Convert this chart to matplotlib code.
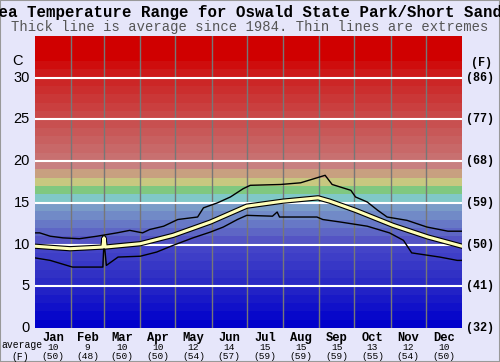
import numpy as np
import matplotlib
matplotlib.use('Agg')
import matplotlib.pyplot as plt
import matplotlib.patheffects as pe
from matplotlib.colors import to_rgb
from matplotlib.transforms import blended_transform_factory

# Data (day of year, deg C)
months = ['Jan', 'Feb', 'Mar', 'Apr', 'May', 'Jun', 'Jul', 'Aug', 'Sep', 'Oct', 'Nov', 'Dec']
month_edges = [0, 31, 59, 90, 120, 151, 181, 212, 243, 273, 304, 334, 365]
avg_c = [10, 9, 10, 10, 12, 14, 15, 15, 15, 13, 12, 10]
avg_f = [50, 48, 50, 50, 54, 57, 59, 59, 59, 55, 54, 50]

avg_days = [0, 30, 58, 59, 60, 90, 118, 150, 181, 212, 242, 252, 274, 306, 336, 365]
avg_temp = [9.8, 9.5, 9.7, 10.8, 9.7, 10.1, 11.1, 12.7, 14.6, 15.2, 15.6, 15.2, 14.1, 12.3, 10.9, 9.8]

max_days = [0, 4, 13, 24, 38, 53, 70, 81, 92, 98, 110, 122, 139, 144, 156, 167, 178, 184,
            210, 227, 241, 248, 254, 270, 274, 284, 293, 301, 318, 335, 353, 365]
max_temp = [11.4, 11.4, 11.0, 10.8, 10.7, 11.0, 11.4, 11.7, 11.4, 11.8, 12.2, 13.0, 13.3, 14.4,
            15.0, 15.7, 16.7, 17.1, 17.2, 17.4, 18.0, 18.3, 17.2, 16.5, 15.7, 15.1, 14.1, 13.3,
            12.9, 12.1, 11.6, 11.6]

min_days = [0, 13, 32, 58, 59, 61, 71, 90, 104, 118, 135, 150, 161, 173, 181, 203, 207, 209,
            241, 246, 261, 284, 303, 315, 322, 346, 361, 365]
min_temp = [8.4, 8.1, 7.3, 7.3, 10.4, 7.5, 8.5, 8.6, 9.1, 9.9, 10.8, 11.5, 12.1, 13.0, 13.5,
            13.4, 13.9, 13.3, 13.3, 13.0, 12.7, 12.2, 11.4, 10.5, 9.0, 8.5, 8.1, 8.1]

c_ticks = [0, 5, 10, 15, 20, 25, 30]
f_ticks = ['(32)', '(41)', '(50)', '(59)', '(68)', '(77)', '(86)']

# colour of each 1 degree band (anchor colours, interpolated)
anchors = {0: '#0000cc', 5: '#2a2ac4', 9: '#4444c8', 10: '#5454c4', 14: '#7a9cc8',
           15: '#80c8c8', 16: '#80c880', 17: '#c8c880', 18: '#c8a080', 19: '#c88080',
           20: '#c87070', 24: '#c85050', 29: '#cc2626', 32: '#d00000', 34: '#d00000'}

def band_color(t):
    keys = sorted(anchors)
    for a, b in zip(keys[:-1], keys[1:]):
        if a <= t <= b:
            ca, cb = np.array(to_rgb(anchors[a])), np.array(to_rgb(anchors[b]))
            f = (t - a) / (b - a) if b > a else 0
            return tuple(ca + (cb - ca) * f)
    return to_rgb(anchors[keys[-1]])

mono = 'Liberation Mono'
bg = '#e6e6fa'

fig = plt.figure(figsize=(5, 3.62), dpi=100, facecolor=bg)
ax = fig.add_axes([0.07, 0.094, 0.854, 0.8066])

for t in range(35):
    ax.axhspan(t, t + 1, color=band_color(t), lw=0, zorder=0)

for d in month_edges[1:-1]:
    ax.axvline(d, color='#777777', lw=1, zorder=1)
for t in c_ticks[1:]:
    ax.axhline(t, color='white', lw=1.5, zorder=1)

ax.plot(max_days, max_temp, color='black', lw=1.0, zorder=3)
ax.plot(min_days, min_temp, color='black', lw=1.0, zorder=3)
ax.plot(avg_days, avg_temp, color='#ffffb8', lw=2.2, zorder=4,
        path_effects=[pe.Stroke(linewidth=3.8, foreground='black'), pe.Normal()])

ax.set_xlim(0, 365)
ax.set_ylim(0, 35)
ax.set_xticks([])
ax.set_yticks([])
for s in ax.spines.values():
    s.set_visible(False)

# left / right temperature labels
for t, f in zip(c_ticks, f_ticks):
    ax.text(-0.012, t, str(t), transform=blended_transform_factory(ax.transAxes, ax.transData),
            ha='right', va='center', fontsize=10.5, family='Liberation Sans')
    ax.text(1.01, t, f, transform=blended_transform_factory(ax.transAxes, ax.transData),
            ha='left', va='center', fontsize=8.5, family=mono, fontweight='bold')
ax.text(-0.042, 32, 'C', transform=blended_transform_factory(ax.transAxes, ax.transData),
        ha='center', va='center', fontsize=10.5, family='Liberation Sans')
ax.text(1.046, 31.8, '(F)', transform=blended_transform_factory(ax.transAxes, ax.transData),
        ha='center', va='center', fontsize=8.5, family=mono, fontweight='bold')

# month labels with averages
trans = blended_transform_factory(ax.transData, fig.transFigure)
for i, m in enumerate(months):
    mid = (month_edges[i] + month_edges[i + 1]) / 2
    ax.text(mid, 1 - 338 / 362, m, transform=trans, ha='center', va='center',
            fontsize=8.7, family=mono, fontweight='bold')
    ax.text(mid, 1 - 348 / 362, str(avg_c[i]), transform=trans, ha='center', va='center',
            fontsize=6.8, family=mono)
    ax.text(mid, 1 - 356.5 / 362, '(%d)' % avg_f[i], transform=trans, ha='center', va='center',
            fontsize=6.8, family=mono)
fig.text(22 / 500, 1 - 345 / 362, 'average', ha='center', va='center', fontsize=7, family=mono)
fig.text(20 / 500, 1 - 356.5 / 362, '(F)', ha='center', va='center', fontsize=7, family=mono)

fig.text(0.5, 1 - 12 / 362, 'Sea Temperature Range for Oswald State Park/Short Sands',
         ha='center', va='center', fontsize=11.3, family=mono, fontweight='bold')
fig.text(0.5, 1 - 27 / 362, 'Thick line is average since 1984. Thin lines are extremes',
         ha='center', va='center', fontsize=10, family=mono, color='#555555')

fig.patches.append(plt.Rectangle((0, 0), 1, 1, transform=fig.transFigure, fill=False,
                                 edgecolor='#999999', lw=1.5))

fig.savefig('out.png', dpi=100, facecolor=bg)
